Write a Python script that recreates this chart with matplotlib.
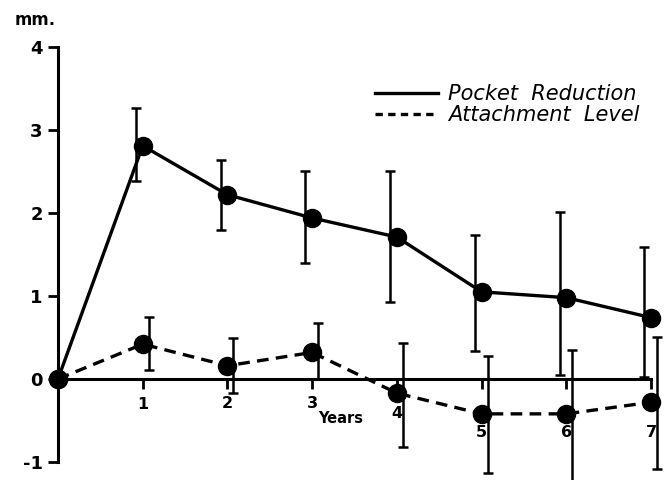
import numpy as np
import matplotlib
matplotlib.use("Agg")
import matplotlib.pyplot as plt
from matplotlib.lines import Line2D

# years after treatment
years = [0, 1, 2, 3, 4, 5, 6, 7]

# mean pocket reduction (mm) with lower / upper ends of the bars
pocket = [0, 2.81, 2.22, 1.94, 1.71, 1.05, 0.98, 0.74]
pocket_lo = [0, 2.39, 1.79, 1.40, 0.93, 0.34, 0.05, 0.03]
pocket_hi = [0, 3.26, 2.64, 2.51, 2.51, 1.74, 2.01, 1.59]

# mean attachment level change (mm) with lower / upper ends of the bars
attach = [0, 0.42, 0.16, 0.32, -0.17, -0.42, -0.42, -0.28]
attach_lo = [0, 0.11, -0.17, 0.00, -0.82, -1.13, -1.25, -1.09]
attach_hi = [0, 0.75, 0.49, 0.67, 0.43, 0.28, 0.35, 0.51]

yticks = [-1, 0, 1, 2, 3, 4]
year_labels = ["1", "2", "3", "4", "5", "6", "7"]
year_label_y = [-0.31, -0.29, -0.29, -0.42, -0.65, -0.65, -0.65]

fig = plt.figure(figsize=(6.7, 4.8), dpi=100)
ax = fig.add_axes([58 / 670, 18 / 480, 593 / 670, 415 / 480])
ax.set_xlim(0, 7)
ax.set_ylim(-1, 4)

lw = 2.4
x = np.array(years, dtype=float)

# error bars, skipping the origin
def bars(vals, lo, hi, shift):
    v = np.array(vals[1:])
    err = [v - np.array(lo[1:]), np.array(hi[1:]) - v]
    ax.errorbar(x[1:] + shift, v, yerr=err, fmt="none", ecolor="black",
                elinewidth=1.8, capsize=3.5, capthick=1.8, clip_on=False,
                zorder=2)

bars(pocket, pocket_lo, pocket_hi, -0.08)
bars(attach, attach_lo, attach_hi, 0.07)

ax.plot(x, pocket, color="black", lw=lw, marker="o", markersize=13,
        clip_on=False, zorder=3)
ax.plot(x, attach, color="black", lw=lw, linestyle=(0, (3.5, 2.2)),
        marker="o", markersize=13, clip_on=False, zorder=3)

# axes: left line from -1 to 4, horizontal line through zero
for s in ["top", "right"]:
    ax.spines[s].set_visible(False)
ax.spines["left"].set_position(("data", 0))
ax.spines["left"].set_linewidth(2.2)
ax.spines["bottom"].set_position(("data", 0))
ax.spines["bottom"].set_linewidth(2.2)
ax.spines["bottom"].set_bounds(0, 7)

ax.set_yticks(yticks)
ax.set_yticklabels([str(t) for t in yticks], fontsize=13, fontweight="bold")
ax.tick_params(axis="y", direction="out", length=7, width=2, pad=4)
ax.set_xticks(years[1:])
ax.set_xticklabels([])
ax.tick_params(axis="x", direction="out", length=7, width=2)

for xv, lab, yv in zip(years[1:], year_labels, year_label_y):
    ax.text(xv, yv, lab, ha="center", va="center", fontsize=11.5,
            fontweight="bold")
ax.text(3.07, -0.48, "Years", ha="left", va="center", fontsize=10.5,
        fontweight="bold")

fig.text(15 / 670, 1 - 20 / 480, "mm.", ha="left", va="center",
         fontsize=12, fontweight="bold")

handles = [Line2D([], [], color="black", lw=2.4),
           Line2D([], [], color="black", lw=2.4, linestyle=(0, (2.2, 1.6)))]
ax.legend(handles, ["Pocket  Reduction", "Attachment  Level"],
          loc="upper right", bbox_to_anchor=(650 / 670, 1 - 74 / 480),
          bbox_transform=fig.transFigure, frameon=False, borderpad=0,
          handlelength=3.0, handletextpad=0.5, labelspacing=0.05,
          prop={"size": 15, "style": "italic"})

fig.savefig("out.png", dpi=100)
